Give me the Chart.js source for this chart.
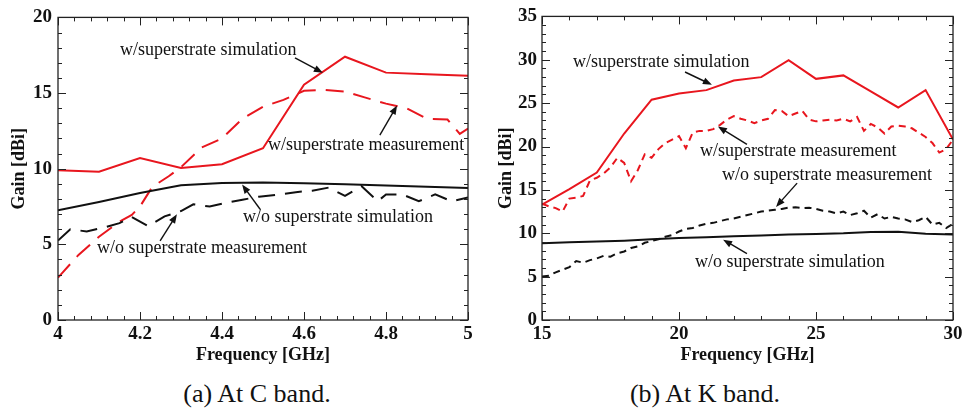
<!DOCTYPE html>
<html>
<head>
<meta charset="utf-8">
<script src="https://cdn.jsdelivr.net/npm/chart.js@4"></script>
<style>
    body { margin: 0; background: #fff; }
    #wrap { position: relative; width: 972px; height: 412px; background: #fff; overflow: hidden; }
    .box { position: absolute; top: 0; width: 486px; height: 370px; }
    .cap { position: absolute; top: 379px; width: 300px; text-align: center;
           font: 26px "Liberation Serif", "Times New Roman", serif; line-height: 30px; color: #111; }
</style>
</head>
<body>
<div id="wrap">
    <div class="box" style="left:0"><canvas id="chartC" width="486" height="370"></canvas></div>
    <div class="box" style="left:486px"><canvas id="chartK" width="486" height="370"></canvas></div>
    <div class="cap" style="left:107px">(a) At C band.</div>
    <div class="cap" style="left:555px">(b) At K band.</div>
</div>
<script>
// ---- C band (4 - 5 GHz) ----
const cFreqSim = [4.0, 4.1, 4.2, 4.3, 4.4, 4.5, 4.6, 4.7, 4.8, 4.9, 5.0];
const cWithSim = [9.9, 9.8, 10.7, 10.05, 10.3, 11.35, 15.55, 17.4, 16.35, 16.25, 16.15];
const cWithoutSim = [7.25, 7.8, 8.4, 8.9, 9.05, 9.08, 9.04, 8.97, 8.89, 8.8, 8.72];

const cFreqWithMeas = [4.0, 4.05, 4.1, 4.15, 4.18, 4.2, 4.23, 4.27, 4.3, 4.35, 4.4, 4.45, 4.5,
    4.55, 4.6, 4.65, 4.7, 4.75, 4.8, 4.85, 4.9, 4.95, 4.98, 5.0];
const cWithMeas = [2.8, 4.3, 5.5, 6.5, 6.95, 7.5, 8.8, 9.5, 10.1, 11.4, 12.0, 13.3, 14.1,
    14.55, 15.15, 15.2, 15.1, 14.7, 14.3, 14.0, 13.3, 13.25, 12.3, 12.65];

const cFreqWithoutMeas = [4.0, 4.03, 4.07, 4.11, 4.15, 4.18, 4.22, 4.26, 4.3, 4.33, 4.37, 4.41, 4.45,
    4.49, 4.54, 4.58, 4.62, 4.66, 4.7, 4.74, 4.78, 4.8, 4.84, 4.88, 4.92, 4.96, 5.0];
const cWithoutMeas = [5.25, 6.0, 5.85, 6.1, 6.4, 6.8, 6.2, 6.85, 7.2, 7.65, 7.5, 7.75, 7.95,
    8.15, 8.3, 8.45, 8.55, 8.75, 8.2, 8.85, 7.85, 8.3, 8.3, 7.85, 8.3, 7.85, 8.1];

// ---- K band (15 - 30 GHz) ----
const kFreqSim = [15, 16, 17, 18, 19, 20, 21, 22, 23, 24, 25, 26, 27, 28, 29, 30];
const kWithSim = [13.3, 15.1, 17.0, 21.5, 25.4, 26.1, 26.5, 27.6, 28.0, 29.95, 27.8, 28.2, 26.35, 24.5, 26.5, 20.8];
const kWithoutSim = [8.85, 8.95, 9.05, 9.15, 9.3, 9.45, 9.55, 9.65, 9.75, 9.85, 9.92, 10.0, 10.15, 10.18, 9.95, 9.85];

const kFreqMeas = [15, 15.25, 15.5, 15.75, 16, 16.25, 16.5, 16.75, 17, 17.25, 17.5, 17.75,
    18, 18.25, 18.5, 18.75, 19, 19.25, 19.5, 19.75, 20, 20.25, 20.5, 20.75,
    21, 21.25, 21.5, 21.75, 22, 22.25, 22.5, 22.75, 23, 23.25, 23.5, 23.75,
    24, 24.25, 24.5, 24.75, 25, 25.25, 25.5, 25.75, 26, 26.25, 26.5, 26.75,
    27, 27.25, 27.5, 27.75, 28, 28.25, 28.5, 28.75, 29, 29.25, 29.5, 29.75, 30];
const kWithMeas = [13.4, 13.1, 12.9, 12.5, 14.0, 14.1, 14.3, 16.1, 16.4, 16.9, 17.6, 18.7,
    18.1, 16.0, 17.3, 19.1, 18.7, 19.7, 20.4, 20.8, 21.2, 19.8, 21.6, 21.8,
    21.8, 22.0, 22.5, 23.1, 23.5, 23.2, 23.0, 22.7, 23.0, 23.2, 24.2, 24.1,
    23.5, 23.8, 24.1, 23.1, 22.9, 23.0, 23.1, 23.0, 23.2, 22.9, 23.4, 21.8,
    22.6, 22.2, 21.5, 22.3, 22.4, 22.3, 22.1, 21.6, 21.1, 20.4, 19.3, 19.7, 20.8];
const kWithoutMeas = [5.0, 5.1, 5.5, 5.8, 6.1, 6.8, 6.6, 6.9, 7.1, 7.4, 7.3, 7.7,
    7.9, 8.3, 8.5, 8.9, 9.1, 9.3, 9.6, 9.8, 10.2, 10.5, 10.6, 10.9,
    11.1, 11.2, 11.4, 11.6, 11.7, 11.9, 12.1, 12.3, 12.5, 12.6, 12.7, 12.8,
    12.95, 13.0, 12.9, 12.95, 12.8, 12.6, 12.5, 12.3, 12.5, 12.1, 12.3, 12.6,
    11.8, 12.2, 11.7, 11.9, 11.7, 11.6, 11.3, 11.5, 11.9, 11.0, 11.2, 10.6, 11.1];

const RED = '#e8161e';
const BLACK = '#111';
const SERIF = '"Liberation Serif", "Times New Roman", serif';

function points(xs, ys) {
    return xs.map((x, i) => ({ x: x, y: ys[i] }));
}

function line(xs, ys, color, dash) {
    return {
        data: points(xs, ys),
        borderColor: color,
        borderWidth: 2,
        borderDash: dash || [],
        pointRadius: 0,
        tension: 0,
        fill: false
    };
}

// frame, inward ticks on all four sides, text labels with arrows
const paperLook = {
    id: 'paperLook',
    afterDraw(chart, args, opts) {
        const ctx = chart.ctx;
        const a = chart.chartArea;
        const xs = chart.scales.x;
        const ys = chart.scales.y;
        ctx.save();
        ctx.strokeStyle = '#222';
        ctx.lineWidth = 1.3;
        ctx.strokeRect(a.left, a.top, a.right - a.left, a.bottom - a.top);

        ctx.lineWidth = 1;
        ctx.beginPath();
        xs.ticks.forEach(t => {
            const px = Math.round(xs.getPixelForValue(t.value)) + 0.5;
            const len = t.label ? 8 : 4;
            ctx.moveTo(px, a.bottom); ctx.lineTo(px, a.bottom - len);
            ctx.moveTo(px, a.top); ctx.lineTo(px, a.top + len);
        });
        ys.ticks.forEach(t => {
            const py = Math.round(ys.getPixelForValue(t.value)) + 0.5;
            const len = t.label ? 8 : 4;
            ctx.moveTo(a.left, py); ctx.lineTo(a.left + len, py);
            ctx.moveTo(a.right, py); ctx.lineTo(a.right - len, py);
        });
        ctx.stroke();

        // notes
        ctx.fillStyle = BLACK;
        ctx.strokeStyle = BLACK;
        ctx.font = '18px ' + SERIF;
        ctx.textAlign = 'left';
        ctx.textBaseline = 'middle';
        (opts.notes || []).forEach(n => {
            ctx.fillText(n.text, xs.getPixelForValue(n.tx), ys.getPixelForValue(n.ty));
            const x0 = xs.getPixelForValue(n.from[0]), y0 = ys.getPixelForValue(n.from[1]);
            const x1 = xs.getPixelForValue(n.to[0]), y1 = ys.getPixelForValue(n.to[1]);
            const ang = Math.atan2(y1 - y0, x1 - x0);
            ctx.lineWidth = 1.4;
            ctx.beginPath();
            ctx.moveTo(x0, y0);
            ctx.lineTo(x1 - 6 * Math.cos(ang), y1 - 6 * Math.sin(ang));
            ctx.stroke();
            ctx.beginPath();
            ctx.moveTo(x1, y1);
            ctx.lineTo(x1 - 9 * Math.cos(ang) + 3.5 * Math.sin(ang), y1 - 9 * Math.sin(ang) - 3.5 * Math.cos(ang));
            ctx.lineTo(x1 - 9 * Math.cos(ang) - 3.5 * Math.sin(ang), y1 - 9 * Math.sin(ang) + 3.5 * Math.cos(ang));
            ctx.closePath();
            ctx.fill();
        });
        ctx.restore();
    }
};

function makeChart(id, cfg) {
    const tickFont = { family: SERIF, size: 19, weight: 'bold' };
    const titleFont = { family: SERIF, size: 18, weight: 'bold' };
    return new Chart(document.getElementById(id), {
        type: 'line',
        data: { datasets: cfg.datasets },
        options: {
            responsive: false,
            animation: false,
            devicePixelRatio: 1,
            layout: { padding: { left: 0, top: 14, right: cfg.padRight, bottom: 0 } },
            plugins: {
                legend: { display: false },
                tooltip: { enabled: false },
                paperLook: { notes: cfg.notes }
            },
            scales: {
                x: {
                    type: 'linear',
                    min: cfg.xMin, max: cfg.xMax,
                    grid: { display: false, drawTicks: false },
                    border: { display: false },
                    ticks: {
                        stepSize: cfg.xStep, autoSkip: false, maxRotation: 0,
                        padding: 3, color: BLACK, font: tickFont,
                        callback: cfg.xLabel
                    },
                    title: { display: true, text: 'Frequency [GHz]', color: BLACK, font: titleFont,
                             padding: { top: 0, bottom: 4 } },
                    afterFit: s => { s.height = 50; }
                },
                y: {
                    min: 0, max: cfg.yMax,
                    grid: { display: false, drawTicks: false },
                    border: { display: false },
                    ticks: {
                        stepSize: 1, autoSkip: false, padding: cfg.yPad, color: BLACK, font: tickFont,
                        callback: v => (v % 5 === 0 ? String(v) : '')
                    },
                    title: { display: true, text: 'Gain [dBi]', color: BLACK, font: titleFont,
                             padding: { top: cfg.yTitlePad, bottom: 0 } },
                    afterFit: s => { s.width = cfg.yWidth; }
                }
            }
        },
        plugins: [paperLook]
    });
}

makeChart('chartC', {
    xMin: 4, xMax: 5, xStep: 0.04, yMax: 20, padRight: 18, yWidth: 58, yPad: 6, yTitlePad: 9,
    xLabel: v => {
        const r = Math.round(v * 5);
        return Math.abs(v * 5 - r) < 1e-6 ? String(+(r / 5).toFixed(1)) : '';
    },
    datasets: [
        line(cFreqWithoutMeas, cWithoutMeas, BLACK, [17, 10]),
        line(cFreqSim, cWithoutSim, BLACK),
        line(cFreqWithMeas, cWithMeas, RED, [18, 10]),
        line(cFreqSim, cWithSim, RED)
    ],
    notes: [
        { text: 'w/superstrate simulation', tx: 4.151, ty: 17.84, from: [4.578, 17.32], to: [4.646, 16.34] },
        { text: 'w/superstrate measurement', tx: 4.512, ty: 11.57, from: [4.785, 12.22], to: [4.827, 14.18] },
        { text: 'w/o superstrate simulation', tx: 4.451, ty: 6.8, from: [4.493, 7.32], to: [4.449, 8.95] },
        { text: 'w/o superstrate measurement', tx: 4.095, ty: 4.77, from: [4.249, 5.23], to: [4.29, 6.99] }
    ]
});

makeChart('chartK', {
    xMin: 15, xMax: 30, xStep: 1, yMax: 35, padRight: 19, yWidth: 56, yPad: 5, yTitlePad: 10,
    xLabel: v => (v % 5 === 0 ? String(v) : ''),
    datasets: [
        line(kFreqMeas, kWithoutMeas, BLACK, [7, 5]),
        line(kFreqSim, kWithoutSim, BLACK),
        line(kFreqMeas, kWithMeas, RED, [7, 5]),
        line(kFreqSim, kWithSim, RED)
    ],
    notes: [
        { text: 'w/superstrate simulation', tx: 16.13, ty: 29.74, from: [20.22, 28.59], to: [21.2, 27.11] },
        { text: 'w/superstrate measurement', tx: 20.77, ty: 19.44, from: [22.48, 20.24], to: [21.42, 22.3] },
        { text: 'w/o superstrate measurement', tx: 21.57, ty: 16.7, from: [24.31, 15.78], to: [23.54, 13.04] },
        { text: 'w/o superstrate simulation', tx: 20.58, ty: 6.63, from: [22.48, 7.66], to: [21.61, 9.26] }
    ]
});
</script>
</body>
</html>
